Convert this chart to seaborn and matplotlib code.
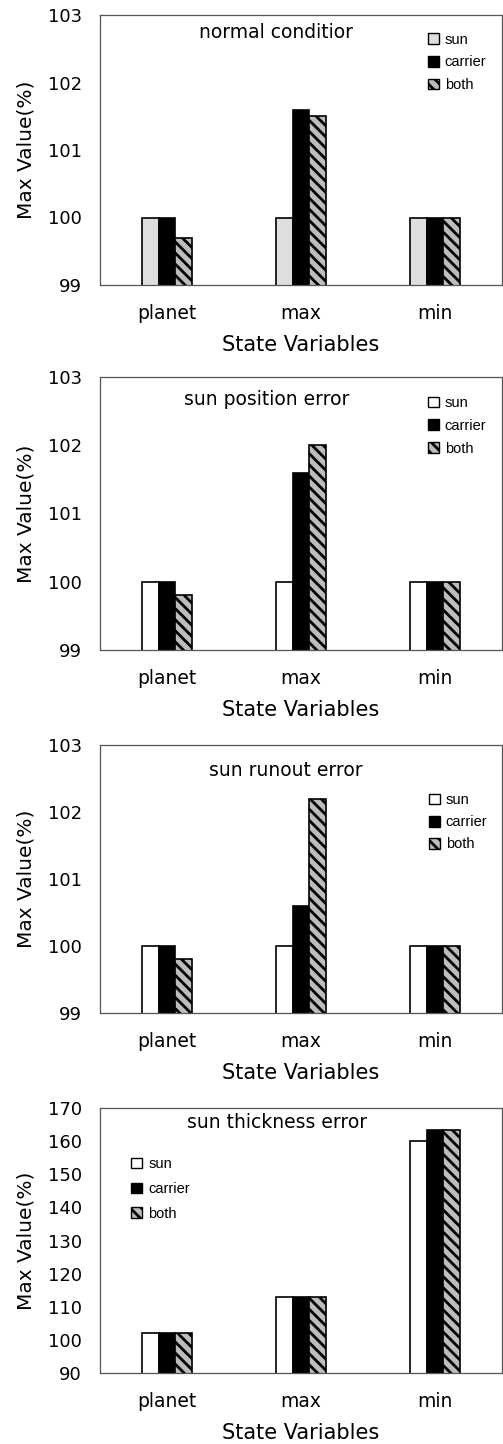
import matplotlib
matplotlib.use('Agg')
import matplotlib.pyplot as plt
import matplotlib.patches as mpatches
import seaborn as sns
import pandas as pd

sns.set_theme(style='white')
plt.rcParams['font.family'] = ['DejaVu Sans']
plt.rcParams['hatch.linewidth'] = 2.0
plt.rcParams['text.color'] = 'black'
plt.rcParams['xtick.color'] = 'black'
plt.rcParams['ytick.color'] = 'black'
plt.rcParams['axes.labelcolor'] = 'black'

categories = ['planet', 'max', 'min']
cases = ['sun', 'carrier', 'both']

titles = ['normal conditior', 'sun position error', 'sun runout error', 'sun thickness error']

# values per panel, one list per case, ordered like categories
normal_sun = [100.0, 100.0, 100.0]
normal_carrier = [100.0, 101.6, 100.0]
normal_both = [99.7, 101.5, 100.0]

position_sun = [100.0, 100.0, 100.0]
position_carrier = [100.0, 101.6, 100.0]
position_both = [99.8, 102.0, 100.0]

runout_sun = [100.0, 100.0, 100.0]
runout_carrier = [100.0, 100.6, 100.0]
runout_both = [99.8, 102.2, 100.0]

thickness_sun = [102.0, 113.0, 160.0]
thickness_carrier = [102.0, 113.0, 163.5]
thickness_both = [102.0, 113.0, 163.5]

panel_values = [
    (normal_sun, normal_carrier, normal_both),
    (position_sun, position_carrier, position_both),
    (runout_sun, runout_carrier, runout_both),
    (thickness_sun, thickness_carrier, thickness_both),
]
ylims = [(99, 103), (99, 103), (99, 103), (90, 170)]
yticks = [range(99, 104), range(99, 104), range(99, 104), range(90, 171, 10)]

W, H = 503, 1444
# axes boxes in pixels: (top, bottom)
boxes = [(15, 285), (377, 650), (745, 1013), (1108, 1373)]
ax_left, ax_right = 100, 502
title_pos = [(276, 32), (267, 399), (286, 770), (277, 1123)]
legend_pos = [(0.816, 0.935), (0.816, 0.93), (0.818, 0.82), (0.078, 0.815)]
legend_spacing = [0.6, 0.6, 0.55, 0.75]
HATCH = '\\\\\\'

fig = plt.figure(figsize=(W / 100, H / 100), dpi=100)

for i in range(4):
    top, bottom = boxes[i]
    ax = fig.add_axes([ax_left / W, 1 - bottom / H, (ax_right - ax_left) / W, (bottom - top) / H])
    sun, carrier, both = panel_values[i]
    df = pd.DataFrame({
        'category': categories * 3,
        'case': ['sun'] * 3 + ['carrier'] * 3 + ['both'] * 3,
        'value': list(sun) + list(carrier) + list(both),
    })
    sun_color = '#dedede' if i == 0 else 'white'
    colors = {'sun': sun_color, 'carrier': 'black', 'both': '#bdbdbd'}
    sns.barplot(data=df, x='category', y='value', hue='case', hue_order=cases,
                order=categories, palette=colors, width=0.38, dodge=True,
                saturation=1, legend=False, ax=ax, edgecolor='black', linewidth=1.2)
    for case, cont in zip(cases, ax.containers):
        for bar in cont:
            bar.set_edgecolor('black')
            if case == 'both':
                bar.set_hatch(HATCH)
    ax.set_xlim(-0.5, 2.5)
    ax.set_ylim(*ylims[i])
    ax.set_yticks(list(yticks[i]))
    ax.tick_params(axis='y', length=0, pad=13, labelsize=13)
    ax.tick_params(axis='x', length=0, pad=14, labelsize=13.5)
    for sp in ax.spines.values():
        sp.set_visible(True)
        sp.set_color('#555555')
        sp.set_linewidth(0.9)
    h_px = bottom - top
    ax.set_xlabel('State Variables', fontsize=15)
    ax.set_ylabel('Max Value(%)', fontsize=14.5)
    ax.xaxis.set_label_coords(0.5, -50 / h_px)
    ax.yaxis.set_label_coords(-64 / (ax_right - ax_left), 0.5)

    tx, ty = title_pos[i]
    fig.text(tx / W, 1 - ty / H, titles[i], ha='center', va='center', fontsize=13.5)

    handles = [
        mpatches.Patch(facecolor=colors['sun'], edgecolor='black', label='sun'),
        mpatches.Patch(facecolor=colors['carrier'], edgecolor='black', label='carrier'),
        mpatches.Patch(facecolor=colors['both'], edgecolor='black', hatch=HATCH, label='both'),
    ]
    ax.legend(handles=handles, loc='upper left', bbox_to_anchor=legend_pos[i],
              frameon=False, handlelength=0.75, handleheight=0.75,
              handletextpad=0.4, borderpad=0, borderaxespad=0,
              labelspacing=legend_spacing[i],
              prop={'family': 'Liberation Sans', 'size': 10.5})

fig.savefig('out.png', dpi=100)
